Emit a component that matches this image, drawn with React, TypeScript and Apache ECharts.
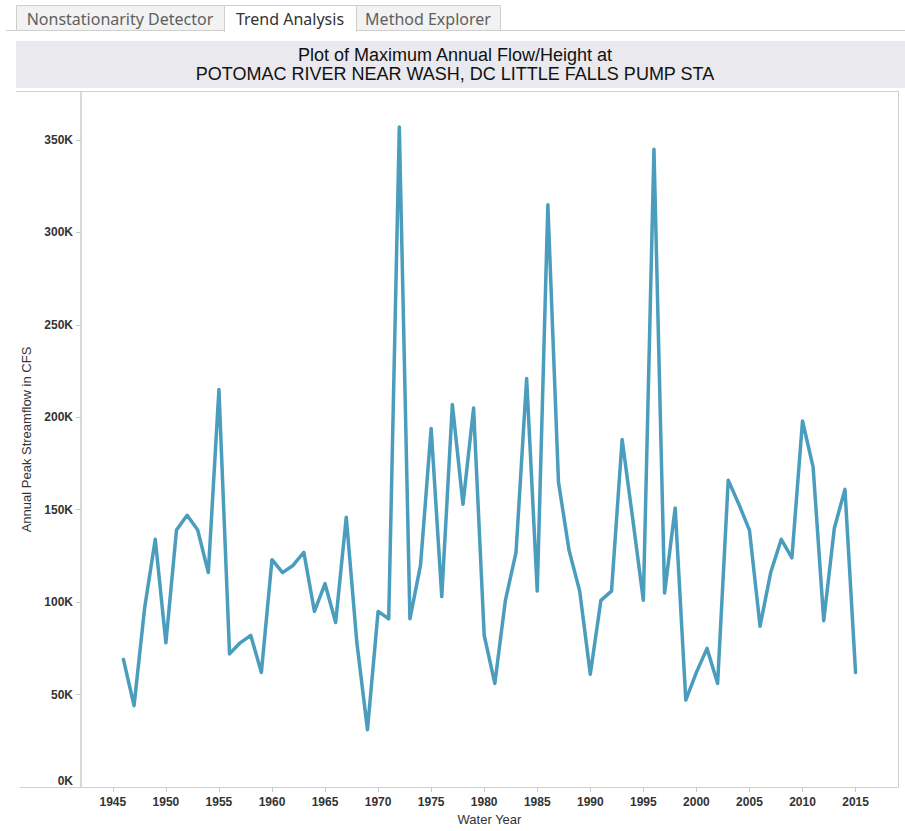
import React, { useEffect, useRef } from "react";
import * as echarts from "echarts";

const years: number[] = [
  1946, 1947, 1948, 1949, 1950, 1951, 1952, 1953, 1954, 1955,
  1956, 1957, 1958, 1959, 1960, 1961, 1962, 1963, 1964, 1965,
  1966, 1967, 1968, 1969, 1970, 1971, 1972, 1973, 1974, 1975,
  1976, 1977, 1978, 1979, 1980, 1981, 1982, 1983, 1984, 1985,
  1986, 1987, 1988, 1989, 1990, 1991, 1992, 1993, 1994, 1995,
  1996, 1997, 1998, 1999, 2000, 2001, 2002, 2003, 2004, 2005,
  2006, 2007, 2008, 2009, 2010, 2011, 2012, 2013, 2014, 2015,
];

// Annual peak streamflow, thousands of CFS
const peakFlowK: number[] = [
  69, 44, 97, 134, 78, 139, 147, 139, 116, 215,
  72, 78, 82, 62, 123, 116, 120, 127, 95, 110,
  89, 146, 78, 31, 95, 91, 357, 91, 120, 194,
  103, 207, 153, 205, 82, 56, 101, 127, 221, 106,
  315, 165, 128, 106, 61, 101, 106, 188, 145, 101,
  345, 105, 151, 47, 62, 75, 56, 166, 153, 139,
  87, 116, 134, 124, 198, 173, 90, 140, 161, 62,
];

const xTickYears: number[] = [1945, 1950, 1955, 1960, 1965, 1970, 1975, 1980, 1985, 1990, 1995, 2000, 2005, 2010, 2015];

const tabLabels: string[] = ["Nonstationarity Detector", "Trend Analysis", "Method Explorer"];
const titleLines: string[] = [
  "Plot of Maximum Annual Flow/Height at",
  "POTOMAC RIVER NEAR WASH, DC LITTLE FALLS PUMP STA",
];

export default function App() {
  const ref = useRef<HTMLDivElement>(null);
  useEffect(() => {
    if (!ref.current) return;
    const chart = echarts.init(ref.current, undefined, { renderer: "svg" });
    const tabX = [16, 224, 356, 500];
    const tabFont = '"Noto Sans", sans-serif';
    const graphics: any[] = [
      { type: "line", shape: { x1: 6, y1: 30.5, x2: 905, y2: 30.5 }, style: { stroke: "#cfcfcf", lineWidth: 1 }, z: 1 },
    ];
    tabLabels.forEach((t, i) => {
      const active = i === 1;
      graphics.push({
        type: "rect",
        shape: { x: tabX[i] + 0.5, y: 5.5, width: tabX[i + 1] - tabX[i], height: active ? 26 : 25 },
        style: { fill: active ? "#ffffff" : "#f2f2f2", stroke: "#cfcfcf", lineWidth: 1 },
        z: active ? 3 : 2,
      });
      graphics.push({
        type: "text",
        x: (tabX[i] + tabX[i + 1]) / 2,
        y: 18.5,
        style: {
          text: t,
          fill: active ? "#333333" : "#606060",
          font: `16px ${tabFont}`,
          textAlign: "center",
          textVerticalAlign: "middle",
        },
        z: 4,
      });
    });
    graphics.push({ type: "rect", shape: { x: tabX[1] + 1, y: 29, width: tabX[2] - tabX[1] - 1, height: 3 }, style: { fill: "#ffffff" }, z: 5 });
    graphics.push({ type: "rect", shape: { x: 16, y: 41, width: 889, height: 47 }, style: { fill: "#e9e9ee" }, z: 1 });
    titleLines.forEach((t, i) => {
      graphics.push({
        type: "text",
        x: 455,
        y: 55 + i * 19,
        style: {
          text: t,
          fill: "#111111",
          font: '18px "Liberation Sans", Arial, sans-serif',
          textAlign: "center",
          textVerticalAlign: "middle",
        },
        z: 2,
      });
    });
    graphics.push({ type: "line", shape: { x1: 16, y1: 91.5, x2: 898.5, y2: 91.5 }, style: { stroke: "#d0d0d0", lineWidth: 1 }, z: 1 });
    graphics.push({ type: "line", shape: { x1: 20, y1: 787.5, x2: 898.5, y2: 787.5 }, style: { stroke: "#d0d0d0", lineWidth: 1 }, z: 1 });
    graphics.push({ type: "line", shape: { x1: 898.5, y1: 91.5, x2: 898.5, y2: 787.5 }, style: { stroke: "#d0d0d0", lineWidth: 1 }, z: 1 });

    const labelFont = '"Liberation Sans", Arial, sans-serif';
    chart.setOption({
      animation: false,
      backgroundColor: "#ffffff",
      graphic: graphics,
      grid: { left: 81, right: 7, top: 92, bottom: 44 },
      xAxis: {
        type: "value",
        min: 1942,
        max: 2019,
        name: "Water Year",
        nameLocation: "middle",
        nameGap: 26,
        nameTextStyle: { fontFamily: labelFont, fontSize: 13, color: "#333" },
        axisLine: { show: false },
        axisTick: { show: true, length: 5, lineStyle: { color: "#c8c8c8" }, customValues: xTickYears },
        axisLabel: {
          customValues: xTickYears,
          formatter: (v: number) => String(v),
          fontFamily: labelFont,
          fontWeight: "bold",
          fontSize: 12,
          color: "#333",
          margin: 9,
        },
        splitLine: { show: false },
      },
      yAxis: {
        type: "value",
        min: 0,
        max: 376000,
        interval: 50000,
        name: "Annual Peak Streamflow in CFS",
        nameLocation: "middle",
        nameGap: 46,
        nameTextStyle: { fontFamily: labelFont, fontSize: 13, color: "#333" },
        axisLine: { show: true, lineStyle: { color: "#cccccc", width: 1.5 } },
        axisTick: { show: true, length: 5, lineStyle: { color: "#c8c8c8" } },
        axisLabel: {
          formatter: (v: number) => (v % 50000 === 0 ? v / 1000 + "K" : ""),
          showMaxLabel: false,
          verticalAlignMinLabel: "bottom",
          fontFamily: labelFont,
          fontWeight: "bold",
          fontSize: 12,
          color: "#333",
          margin: 8,
        },
        splitLine: { show: false },
      },
      series: [
        {
          type: "line",
          data: years.map((y, i) => [y, peakFlowK[i] * 1000]),
          showSymbol: false,
          symbol: "none",
          lineStyle: { color: "#4a9dbd", width: 3.5, join: "round", cap: "round" },
          itemStyle: { color: "#4a9dbd" },
        },
      ],
    });
    return () => chart.dispose();
  }, []);
  return <div ref={ref} style={{ position: "fixed", left: 0, top: 0, width: 905, height: 831 }} />;
}
